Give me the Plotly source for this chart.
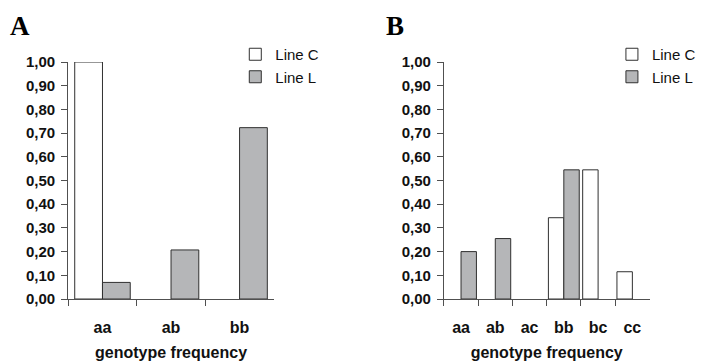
import plotly.graph_objects as go

# ---- data ----
cats_a = ["aa", "ab", "bb"]
line_c_a = [1.00, 0.0, 0.0]
line_l_a = [0.07, 0.207, 0.723]

cats_b = ["aa", "ab", "ac", "bb", "bc", "cc"]
line_c_b = [0.0, 0.0, 0.0, 0.343, 0.545, 0.115]
line_l_b = [0.20, 0.255, 0.0, 0.545, 0.0, 0.0]

y_ticks = [0.0, 0.1, 0.2, 0.3, 0.4, 0.5, 0.6, 0.7, 0.8, 0.9, 1.0]
y_ticktext = ["0,00", "0,10", "0,20", "0,30", "0,40", "0,50", "0,60", "0,70", "0,80", "0,90", "1,00"]

W, H = 701, 361
WHITE = "#ffffff"
GRAY = "#b5b6b8"
EDGE = "#303030"
AXC = "#505050"
TXT = "#111111"
FONT = "Liberation Sans, Arial"


def visible(vals):
    # zero frequencies draw no bar (as in the original chart)
    return [v if v > 0 else None for v in vals]


fig = go.Figure()

wa = 0.405
wb = 0.45
fig.add_trace(go.Bar(x=cats_a, y=visible(line_c_a), name="Line C", width=wa, offset=-wa,
                     marker=dict(color=WHITE, line=dict(color=EDGE, width=1)),
                     xaxis="x", yaxis="y", legend="legend", legendgroup="c1"))
fig.add_trace(go.Bar(x=cats_a, y=visible(line_l_a), name="Line L", width=wa, offset=0,
                     marker=dict(color=GRAY, line=dict(color=EDGE, width=1)),
                     xaxis="x", yaxis="y", legend="legend", legendgroup="l1"))
fig.add_trace(go.Bar(x=cats_b, y=visible(line_c_b), name="Line C", width=wb, offset=-wb,
                     marker=dict(color=WHITE, line=dict(color=EDGE, width=1)),
                     xaxis="x2", yaxis="y2", legend="legend2", legendgroup="c2"))
fig.add_trace(go.Bar(x=cats_b, y=visible(line_l_b), name="Line L", width=wb, offset=0,
                     marker=dict(color=GRAY, line=dict(color=EDGE, width=1)),
                     xaxis="x2", yaxis="y2", legend="legend2", legendgroup="l2"))

ybot = (H - 299) / H
ytop = (H - 62) / H

xcommon = dict(type="category", showline=True, linecolor=AXC, linewidth=1,
               ticks="outside", tickson="boundaries", ticklen=6, tickcolor=AXC,
               showgrid=False, zeroline=False, automargin=False,
               ticklabelstandoff=14,
               tickfont=dict(family=FONT, size=16, color=TXT),
               title=dict(text="<b>genotype frequency</b>",
                          font=dict(family=FONT, size=16, color=TXT),
                          standoff=12))
ycommon = dict(range=[0, 1.0], showline=True, linecolor=AXC, linewidth=1,
               ticks="outside", ticklen=6, tickcolor=AXC, tickvals=y_ticks,
               ticktext=[f"<b>{t}</b>" for t in y_ticktext],
               showgrid=False, zeroline=False, automargin=False,
               ticklabelstandoff=3,
               tickfont=dict(family=FONT, size=15, color=TXT))

legfont = dict(family=FONT, size=15, color=TXT)

fig.update_layout(
    width=W, height=H, margin=dict(l=0, r=0, t=0, b=0),
    paper_bgcolor="white", plot_bgcolor="white",
    barmode="overlay",
    xaxis=dict(domain=[69 / W, 277 / W], anchor="y",
               tickvals=cats_a, ticktext=[f"<b>{c}</b>" for c in cats_a], **xcommon),
    yaxis=dict(domain=[ybot, ytop], anchor="x", **ycommon),
    xaxis2=dict(domain=[449 / W, 657 / W], anchor="y2",
                tickvals=cats_b, ticktext=[f"<b>{c}</b>" for c in cats_b], **xcommon),
    yaxis2=dict(domain=[ybot, ytop], anchor="x2", **ycommon),
    legend=dict(x=238 / W, y=1 - 38 / H, xanchor="left", yanchor="top",
                font=legfont, bgcolor="rgba(0,0,0,0)", tracegroupgap=0, itemwidth=30),
    legend2=dict(x=619 / W, y=1 - 38 / H, xanchor="left", yanchor="top",
                 font=legfont, bgcolor="rgba(0,0,0,0)", tracegroupgap=0, itemwidth=30),
    showlegend=True,
    annotations=[
        dict(text="<b>A</b>", x=8 / W, y=1 - 26 / H, xref="paper", yref="paper",
             xanchor="left", yanchor="middle", showarrow=False,
             font=dict(family="Liberation Serif, Times New Roman", size=27, color="black")),
        dict(text="<b>B</b>", x=388 / W, y=1 - 26 / H, xref="paper", yref="paper",
             xanchor="left", yanchor="middle", showarrow=False,
             font=dict(family="Liberation Serif, Times New Roman", size=27, color="black")),
    ],
)

fig.write_html("out.html")
